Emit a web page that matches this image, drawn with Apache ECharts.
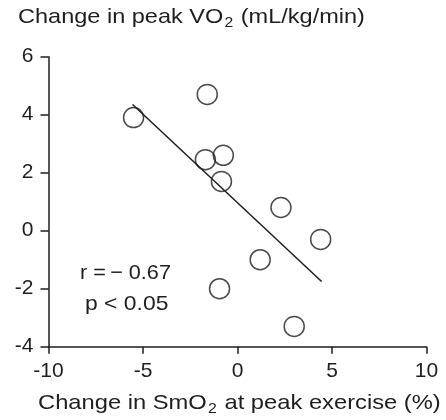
<!DOCTYPE html>
<html>
<head>
<meta charset="utf-8">
<script src="https://cdn.jsdelivr.net/npm/echarts@6/dist/echarts.min.js"></script>
<style>
  html, body { margin: 0; padding: 0; background: #fff; }
  #chart { width: 446px; height: 420px; }
</style>
</head>
<body>
<div id="chart"></div>
<script>
// change in SmO2 (%) vs change in peak VO2 (mL/kg/min)
var smo2 = [-5.5, -1.6, -1.7, -0.75, -0.85, 2.3, 4.4, 1.2, -0.95, 3.0];
var vo2 = [3.9, 4.7, 2.45, 2.6, 1.7, 0.8, -0.3, -1.0, -2.0, -3.3];
// regression line end points
var fitX = [-5.55, 4.45];
var fitY = [4.35, -1.75];
var xTicks = [-10, -5, 0, 5, 10];
var yTicks = [-4, -2, 0, 2, 4, 6];

var textColor = '#1e1e1e';
var fontFamily = '"Liberation Sans", Arial, sans-serif';

var chart = echarts.init(document.getElementById('chart'));

var option = {
  animation: false,
  textStyle: { fontFamily: fontFamily, color: textColor },
  grid: { left: 48.5, right: 19.5, top: 56.7, bottom: 73.3, containLabel: false },
  xAxis: {
    type: 'value',
    min: xTicks[0],
    max: xTicks[xTicks.length - 1],
    interval: 5,
    axisLine: { onZero: false, lineStyle: { color: textColor, width: 1.5 } },
    axisTick: { inside: false, length: 7, lineStyle: { color: textColor, width: 1.5 } },
    axisLabel: { fontSize: 21, color: textColor, margin: 14, fontFamily: fontFamily },
    splitLine: { show: false }
  },
  yAxis: {
    type: 'value',
    min: yTicks[0],
    max: yTicks[yTicks.length - 1],
    interval: 2,
    axisLine: { onZero: false, lineStyle: { color: textColor, width: 1.5 } },
    axisTick: { inside: false, length: 8, lineStyle: { color: textColor, width: 1.5 } },
    axisLabel: { fontSize: 21, color: textColor, margin: 15, fontFamily: fontFamily },
    splitLine: { show: false }
  },
  graphic: [
    {
      type: 'text',
      x: 18,
      y: 4,
      scaleX: 1.12,
      style: {
        text: '{a|Change in peak VO}{s|2}{a| (mL/kg/min)}',
        rich: {
          a: { fontSize: 21, fill: textColor, fontFamily: fontFamily, lineHeight: 26 },
          s: { fontSize: 14, fill: textColor, fontFamily: fontFamily, padding: [12, 1, 0, 1] }
        }
      }
    },
    {
      type: 'text',
      x: 38,
      y: 390,
      scaleX: 1.13,
      style: {
        text: '{a|Change in SmO}{s|2}{a| at peak exercise (%)}',
        rich: {
          a: { fontSize: 21, fill: textColor, fontFamily: fontFamily, lineHeight: 26 },
          s: { fontSize: 14, fill: textColor, fontFamily: fontFamily, padding: [12, 1, 0, 1] }
        }
      }
    },
    {
      type: 'text',
      x: 80,
      y: 263,
      scaleX: 1.03,
      style: { text: 'r =\u2009\u2212 0.67', fontSize: 21, fill: textColor, fontFamily: fontFamily }
    },
    {
      type: 'text',
      x: 85,
      y: 294,
      scaleX: 1.09,
      style: { text: 'p < 0.05', fontSize: 21, fill: textColor, fontFamily: fontFamily }
    }
  ],
  series: [
    {
      type: 'line',
      data: fitX.map(function (x, i) { return [x, fitY[i]]; }),
      symbol: 'none',
      lineStyle: { color: textColor, width: 1.5 },
      z: 1
    },
    {
      type: 'scatter',
      data: smo2.map(function (x, i) { return [x, vo2[i]]; }),
      symbol: 'circle',
      symbolSize: 20,
      itemStyle: { color: 'rgba(255,255,255,0)', borderColor: textColor, borderWidth: 1.5 },
      z: 2
    }
  ]
};

chart.setOption(option);
</script>
</body>
</html>
